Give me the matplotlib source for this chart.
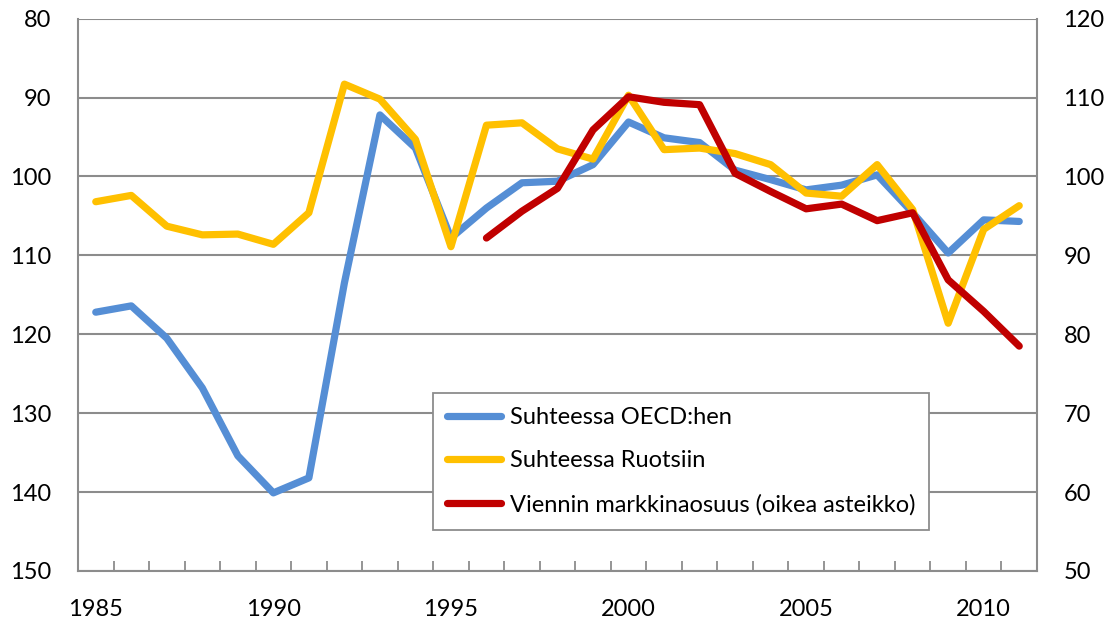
import matplotlib
matplotlib.use('Agg')
import matplotlib.pyplot as plt
from matplotlib.ticker import FixedLocator, MultipleLocator
import numpy as np

# ============================================================
# Data
# ============================================================
years = list(range(1985, 2012))

oecd = [117.2, 116.4, 120.5, 126.8, 135.4, 140.1, 138.2, 113.5, 92.2, 96.4,
        107.8, 104.0, 100.8, 100.6, 98.5, 93.1, 95.1, 95.7, 99.2, 100.4,
        101.7, 101.1, 99.8, 104.6, 109.7, 105.5, 105.7]

ruotsi = [103.2, 102.4, 106.3, 107.4, 107.3, 108.6, 104.6, 88.3, 90.2, 95.3,
          108.9, 93.5, 93.2, 96.5, 97.8, 89.7, 96.6, 96.4, 97.1, 98.5,
          102.1, 102.5, 98.5, 104.2, 118.6, 106.7, 103.7]

share_years = list(range(1996, 2012))
markkinaosuus = [92.2, 95.6, 98.5, 105.9, 110.1, 109.4, 109.1, 100.4, 98.1,
                 95.9, 96.5, 94.4, 95.4, 86.9, 82.9, 78.5]

labels = ['Suhteessa OECD:hen', 'Suhteessa Ruotsiin',
          'Viennin markkinaosuus (oikea asteikko)']

# ============================================================
# Plot
# ============================================================
plt.rcParams['font.family'] = ['Lato', 'DejaVu Sans']

grey = '#8c8c8c'
blue = '#558ed5'
yellow = '#ffc000'
red = '#c00000'
lw = 5.2
fs = 17
style = dict(linewidth=lw, solid_capstyle='round', solid_joinstyle='round')

fig = plt.figure(figsize=(11.16, 6.22), dpi=100)
ax = fig.add_axes([0.0699, 0.082, 0.8593, 0.888])

l1, = ax.plot(years, oecd, color=blue, label=labels[0], **style)
l2, = ax.plot(years, ruotsi, color=yellow, label=labels[1], **style)

ax.set_xlim(1984.5, 2011.5)
ax.set_ylim(150, 80)
ax.yaxis.set_major_locator(MultipleLocator(10))
ax.grid(axis='y', color=grey, linewidth=1.5)
ax.set_axisbelow(True)

ax.xaxis.set_major_locator(FixedLocator([1985, 1990, 1995, 2000, 2005, 2010]))
ax.xaxis.set_minor_locator(FixedLocator(np.arange(1984.5, 2012, 1.0)))
ax.tick_params(axis='x', which='major', length=0, pad=20, labelsize=fs)
ax.tick_params(axis='x', which='minor', direction='in', length=7,
               width=1.3, color=grey)
ax.tick_params(axis='y', length=0, pad=19, labelsize=fs)

for side in ['left', 'right', 'bottom']:
    ax.spines[side].set_color(grey)
    ax.spines[side].set_linewidth(1.5)
ax.spines['top'].set_visible(False)

ax2 = ax.twinx()
l3, = ax2.plot(share_years, markkinaosuus, color=red, label=labels[2], **style)
ax2.set_ylim(50, 120)
ax2.yaxis.set_major_locator(MultipleLocator(10))
ax2.tick_params(axis='y', length=0, pad=19, labelsize=fs)
for side in ['left', 'right', 'top', 'bottom']:
    ax2.spines[side].set_visible(False)

leg = ax2.legend(handles=[l1, l2, l3], loc='upper left',
                 bbox_to_anchor=(0.370, 0.3225), borderaxespad=0,
                 fontsize=fs, frameon=True, fancybox=False,
                 handlelength=2.3, handletextpad=0.35, labelspacing=0.95,
                 borderpad=0.6)
leg.get_frame().set_edgecolor(grey)
leg.get_frame().set_linewidth(1.3)
leg.get_frame().set_alpha(1)

plt.savefig('out.png', dpi=100)
